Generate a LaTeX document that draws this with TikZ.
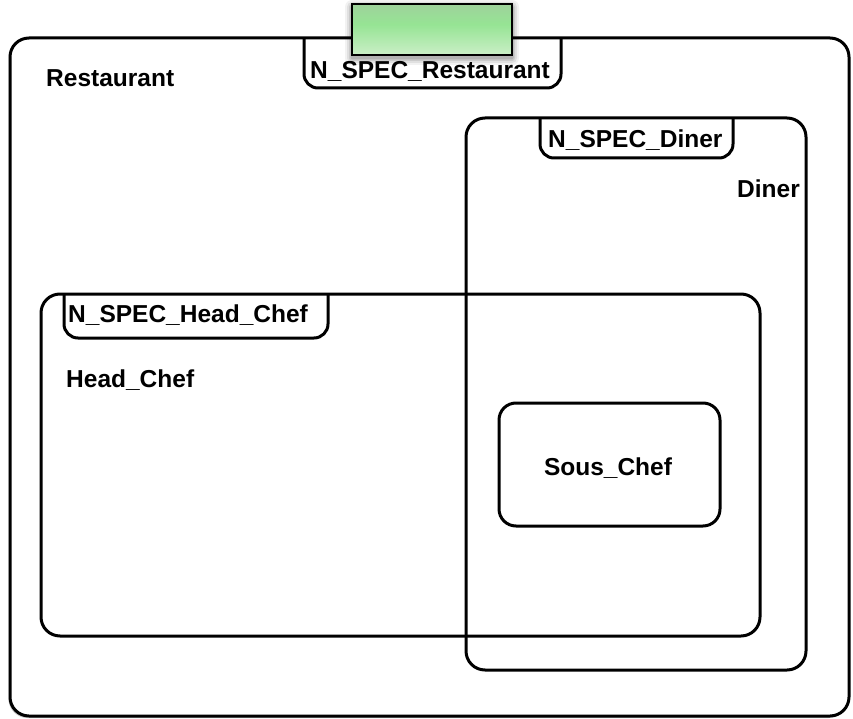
\documentclass[tikz,border=0pt]{standalone}
\usepackage{fontspec}
\setmainfont{Liberation Sans}
\usetikzlibrary{shadows}
\definecolor{badgetop}{RGB}{168,188,164}
\definecolor{badgemid}{RGB}{150,228,148}
\definecolor{badgelow}{RGB}{208,240,204}
\definecolor{badgebot}{RGB}{244,251,242}
\pgfdeclareverticalshading{badgeshade}{100bp}{color(0bp)=(badgebot); color(22bp)=(badgelow); color(55bp)=(badgemid); color(100bp)=(badgetop)}
\begin{document}
\begin{tikzpicture}[x=1pt,y=-1pt,
  frame/.style={line width=3pt,rounded corners=19pt},
  tabframe/.style={line width=3pt,rounded corners=14pt},
  lbl/.style={font=\fontsize{24.5}{29}\selectfont\bfseries,inner sep=0pt,anchor=base west},
  softshadow/.style={drop shadow={shadow xshift=-1.5pt,shadow yshift=-2pt,opacity=0.3,fill=black!70}}]
\useasboundingbox (0,0) rectangle (853,719);
\fill[white] (0,0) rectangle (853,719);

% Restaurant container
\draw[frame,fill=white,softshadow] (10,38) rectangle (849,716);
\draw[tabframe] (304,38) -- (304,88) -- (561,88) -- (561,38);
\node[lbl] (restaurant) at (46,87) {Restaurant};
\node[lbl] (specrestaurant) at (310,79) {N\_SPEC\_Restaurant};

% Diner
\draw[frame] (466,118) rectangle (806,670);
\draw[tabframe] (540,118) -- (540,158) -- (733,158) -- (733,118);
\node[lbl] (specdiner) at (548,148) {N\_SPEC\_Diner};
\node[lbl,anchor=base east] (diner) at (800,198) {Diner};

% Head chef
\draw[frame] (41,294) rectangle (760,636);
\draw[tabframe] (64,294) -- (64,338) -- (328,338) -- (328,294);
\node[lbl] (specheadchef) at (68,322) {N\_SPEC\_Head\_Chef};
\node[lbl] (headchef) at (66,387) {Head\_Chef};

% Sous chef
\draw[frame,rounded corners=17pt] (499,403) rectangle (720,526);
\node[lbl,anchor=base] (souschef) at (608,475) {Sous\_Chef};

% Soft haze behind the badge
\foreach \d/\o in {7/0.05,5/0.07,3/0.09,1.5/0.12}
  \fill[black,opacity=\o,rounded corners=\d pt] (352-\d,4-\d+3) rectangle (512+\d,55+\d+3);
% Shaded badge on the top edge
\shade[shading=badgeshade,draw=black,line width=1.2pt] (352,4) rectangle (512,55);
\end{tikzpicture}
\end{document}
